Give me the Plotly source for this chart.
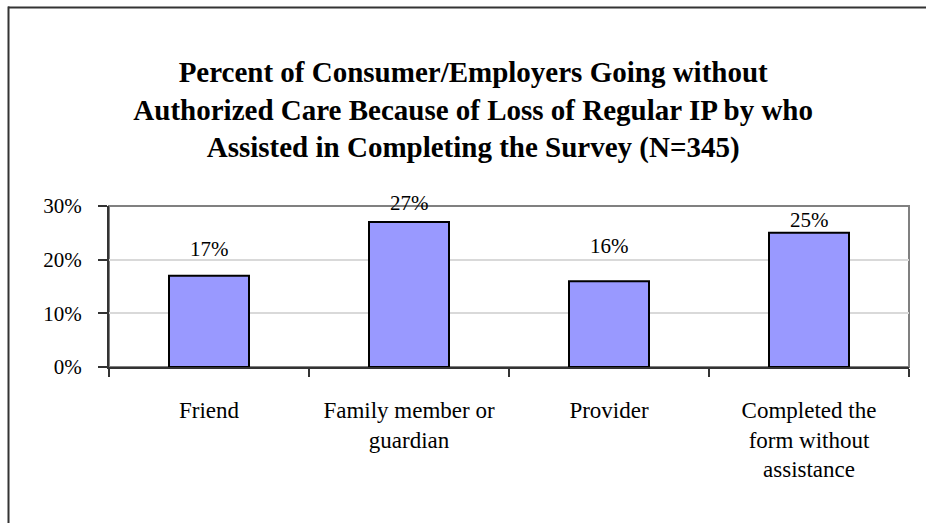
import plotly.graph_objects as go

# Survey results: share going without authorized care, by who helped complete the survey
categories = [
    "Friend",
    "Family member or<br>guardian",
    "Provider",
    "Completed the<br>form without<br>assistance",
]
percent_without_care = [0.17, 0.27, 0.16, 0.25]
y_tick_values = [0.0, 0.1, 0.2, 0.3]
y_tick_labels = ["0%", "10%", "20%", "30%"]

# Label gaps above each bar (pixels)
label_gap = [17, 9, 25, 3]

W, H = 926, 523
M_L, M_R, M_T, M_B = 109, 17, 206, 156
FONT = "Liberation Serif, Times New Roman, serif"

fig = go.Figure()
fig.add_trace(go.Bar(
    x=categories,
    y=percent_without_care,
    marker=dict(color="#9999ff", line=dict(color="#000000", width=2)),
    width=0.4,
    hoverinfo="skip",
))

for cat, val, gap in zip(categories, percent_without_care, label_gap):
    fig.add_annotation(
        x=cat, y=val, xref="x", yref="y",
        text=f"{round(val * 100)}%",
        showarrow=False, yanchor="bottom", yshift=gap - 4,
        font=dict(family=FONT, size=21, color="#000000"),
    )

# Plot-area frame (gray top/right edges)
fig.add_shape(type="rect", xref="paper", yref="paper", x0=0, x1=1, y0=0, y1=1,
              line=dict(color="#808080", width=2), layer="below")

# Outer chart frame: top and left edges
pw, ph = W - M_L - M_R, H - M_T - M_B
def px_to_paper_x(px):
    return (px - M_L) / pw
def py_to_paper_y(py):
    return (H - M_B - py) / ph

fig.add_shape(type="line", xref="paper", yref="paper",
              x0=px_to_paper_x(8), x1=px_to_paper_x(930),
              y0=py_to_paper_y(7.5), y1=py_to_paper_y(7.5),
              line=dict(color="#333333", width=2))
fig.add_shape(type="line", xref="paper", yref="paper",
              x0=px_to_paper_x(8.5), x1=px_to_paper_x(8.5),
              y0=py_to_paper_y(6.5), y1=py_to_paper_y(530),
              line=dict(color="#333333", width=2))

fig.update_layout(
    width=W, height=H,
    margin=dict(l=M_L, r=M_R, t=M_T, b=M_B),
    paper_bgcolor="#ffffff", plot_bgcolor="#ffffff",
    showlegend=False,
    bargap=0.6,
    title=dict(
        text="Percent of Consumer/Employers Going without<br>"
             "Authorized Care Because of Loss of Regular IP by who<br>"
             "Assisted in Completing the Survey (N=345)",
        x=0.511, xanchor="center", xref="container",
        y=1 - 82 / H, yanchor="top", yref="container",
        font=dict(family=FONT, size=29, color="#000000", weight="bold"),
    ),
    xaxis=dict(
        type="category",
        tickson="boundaries",
        ticks="outside", ticklen=8, tickwidth=1.5, tickcolor="#333333",
        showline=True, linecolor="#333333", linewidth=2,
        showgrid=False,
        tickfont=dict(family=FONT, size=23, color="#000000"),
        ticklabelstandoff=21,
    ),
    yaxis=dict(
        range=[0, 0.3],
        tickvals=y_tick_values, ticktext=y_tick_labels,
        ticks="outside", ticklen=9, tickwidth=1.5, tickcolor="#333333",
        showline=True, linecolor="#333333", linewidth=2,
        showgrid=True, gridcolor="#d9d9d9", gridwidth=1.5,
        zeroline=False,
        tickfont=dict(family=FONT, size=21, color="#000000"),
        ticklabelstandoff=12,
    ),
)

fig.write_html("out.html")
